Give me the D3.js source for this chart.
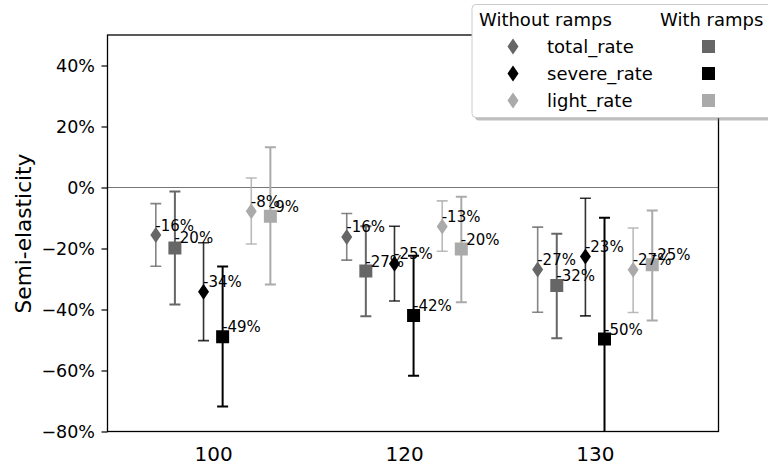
<!DOCTYPE html>
<html>
<head>
<meta charset="utf-8">
<script src="https://cdn.jsdelivr.net/npm/d3@7"></script>
<style>
    body { margin: 0; background: #fff; }
    text { font-family: "DejaVu Sans", sans-serif; }
</style>
</head>
<body>
<div id="chart"></div>
<script>
// categories on the x axis
const groups = ["100", "120", "130"];
const series = ["total_rate", "severe_rate", "light_rate"];
const y_ticks = [-80, -60, -40, -20, 0, 20, 40];

// without ramps (diamonds), values in %
const noramp_total = [-15.6, -16.2, -26.9];
const noramp_total_lo = [-25.8, -23.8, -40.9];
const noramp_total_hi = [-5.3, -8.5, -13.0];
const noramp_severe = [-34.2, -25.0, -22.6];
const noramp_severe_lo = [-50.2, -37.2, -42.1];
const noramp_severe_hi = [-18.1, -12.7, -3.5];
const noramp_light = [-7.8, -12.8, -27.0];
const noramp_light_lo = [-18.5, -20.9, -41.0];
const noramp_light_hi = [3.1, -4.4, -13.3];

// with ramps (squares)
const ramp_total = [-19.8, -27.4, -32.1];
const ramp_total_lo = [-38.4, -42.2, -49.4];
const ramp_total_hi = [-1.3, -12.7, -15.2];
const ramp_severe = [-48.9, -42.0, -49.7];
const ramp_severe_lo = [-71.8, -61.7, -91.0];
const ramp_severe_hi = [-25.9, -22.4, -9.9];
const ramp_light = [-9.4, -20.2, -25.3];
const ramp_light_lo = [-31.8, -37.6, -43.6];
const ramp_light_hi = [13.2, -3.0, -7.5];

const colors = {total_rate: "#666666", severe_rate: "#000000", light_rate: "#aaaaaa"};
const series_offset = {total_rate: -0.25, severe_rate: 0, light_rate: 0.25};

// build rows for drawing
let points = [];
function add_rows(name, kind, vals, lo, hi) {
    for (let i = 0; i < groups.length; i++) {
        points.push({series: name, kind: kind, group: i, value: vals[i], lo: lo[i], hi: hi[i]});
    }
}
add_rows("total_rate", "noramp", noramp_total, noramp_total_lo, noramp_total_hi);
add_rows("total_rate", "ramp", ramp_total, ramp_total_lo, ramp_total_hi);
add_rows("severe_rate", "noramp", noramp_severe, noramp_severe_lo, noramp_severe_hi);
add_rows("severe_rate", "ramp", ramp_severe, ramp_severe_lo, ramp_severe_hi);
add_rows("light_rate", "noramp", noramp_light, noramp_light_lo, noramp_light_hi);
add_rows("light_rate", "ramp", ramp_light, ramp_light_lo, ramp_light_hi);

const width = 768, height = 466;
const margins = {top: 35, bottom: 34.5, left: 107.5, right: 49.5};

const svg = d3.select("#chart").append("svg")
    .attr("width", width)
    .attr("height", height);

svg.append("rect").attr("width", width).attr("height", height).attr("fill", "#fff");

const x_scale = d3.scaleLinear()
    .domain([-0.553, 2.647])
    .range([margins.left, width - margins.right]);

const y_scale = d3.scaleLinear()
    .domain([-80, 50])
    .range([height - margins.bottom, margins.top]);

function x_pos(d) {
    let pair = d.kind === "noramp" ? -0.05 : 0.05;
    return x_scale(d.group + series_offset[d.series] + pair);
}

svg.append("clipPath").attr("id", "plot_clip")
    .append("rect")
    .attr("x", margins.left)
    .attr("y", margins.top)
    .attr("width", width - margins.left - margins.right)
    .attr("height", height - margins.top - margins.bottom);

// y axis
const y_axis = d3.axisLeft(y_scale)
    .tickValues(y_ticks)
    .tickSize(6)
    .tickPadding(6.5)
    .tickFormat(d => (d < 0 ? "\u2212" : "") + Math.abs(d) + "%");

const y_g = svg.append("g")
    .attr("transform", "translate(" + margins.left + ",0)")
    .call(y_axis);
y_g.select(".domain").remove();
y_g.selectAll("line").attr("stroke", "#000").attr("stroke-width", 1.2);
y_g.selectAll("text").attr("font-size", "17.5px").attr("fill", "#000")
    .attr("font-family", "DejaVu Sans");

// x axis
const x_axis = d3.axisBottom(x_scale)
    .tickValues([0, 1, 2])
    .tickSize(0)
    .tickPadding(15)
    .tickFormat(i => groups[i]);

const x_g = svg.append("g")
    .attr("transform", "translate(0," + (height - margins.bottom) + ")")
    .call(x_axis);
x_g.select(".domain").remove();
x_g.selectAll("text").attr("font-size", "20px").attr("fill", "#000")
    .attr("font-family", "DejaVu Sans");

// y label
svg.append("text")
    .attr("transform", "translate(31,233.5) rotate(-90)")
    .attr("text-anchor", "middle")
    .attr("font-size", "21.7px")
    .text("Semi-elasticity");

const plot = svg.append("g").attr("clip-path", "url(#plot_clip)");

// zero line
plot.append("line")
    .attr("x1", margins.left).attr("x2", width - margins.right)
    .attr("y1", y_scale(0)).attr("y2", y_scale(0))
    .attr("stroke", "#777").attr("stroke-width", 1);

// error bars
const err = plot.selectAll(".err")
    .data(points)
    .enter()
    .append("g")
    .attr("stroke", d => colors[d.series])
    .attr("stroke-opacity", d => d.kind === "noramp" ? 0.8 : 1)
    .attr("stroke-width", d => d.kind === "noramp" ? 1.6 : 2);

err.append("line")
    .attr("x1", x_pos).attr("x2", x_pos)
    .attr("y1", d => y_scale(d.lo)).attr("y2", d => y_scale(d.hi));
err.append("line")
    .attr("x1", d => x_pos(d) - 5.5).attr("x2", d => x_pos(d) + 5.5)
    .attr("y1", d => y_scale(d.lo)).attr("y2", d => y_scale(d.lo));
err.append("line")
    .attr("x1", d => x_pos(d) - 5.5).attr("x2", d => x_pos(d) + 5.5)
    .attr("y1", d => y_scale(d.hi)).attr("y2", d => y_scale(d.hi));

const diamond = "M0,-8L5.5,0L0,8L-5.5,0Z";

// markers
plot.selectAll(".mark")
    .data(points)
    .enter()
    .append("path")
    .attr("transform", d => "translate(" + x_pos(d) + "," + y_scale(d.value) + ")")
    .attr("d", d => d.kind === "noramp" ? diamond : "M-6.5,-6.5H6.5V6.5H-6.5Z")
    .attr("fill", d => colors[d.series]);

// value labels
svg.selectAll(".lbl")
    .data(points)
    .enter()
    .append("text")
    .attr("x", d => x_pos(d) - 0.5)
    .attr("y", d => y_scale(d.value) - 4.5)
    .attr("font-size", "15px")
    .text(d => Math.round(d.value) + "%");

// frame
svg.append("rect")
    .attr("x", margins.left).attr("y", margins.top)
    .attr("width", width - margins.left - margins.right)
    .attr("height", height - margins.top - margins.bottom)
    .attr("fill", "none")
    .attr("stroke", "#000")
    .attr("stroke-width", 1.3);

// legend
const legend = svg.append("g").attr("transform", "translate(472,4.5)");
legend.append("rect")
    .attr("x", 3).attr("y", 3)
    .attr("width", 330).attr("height", 113)
    .attr("rx", 4)
    .attr("fill", "#808080").attr("fill-opacity", 0.5);
legend.append("rect")
    .attr("width", 330).attr("height", 113)
    .attr("rx", 4)
    .attr("fill", "#fff")
    .attr("stroke", "#cccccc").attr("stroke-width", 1);

legend.append("text").attr("x", 7).attr("y", 21.5).attr("font-size", "18px").text("Without ramps");
legend.append("text").attr("x", 188).attr("y", 21.5).attr("font-size", "18px").text("With ramps");

const rows = legend.selectAll(".row")
    .data(series)
    .enter()
    .append("g")
    .attr("transform", (d, i) => "translate(0," + (42 + i * 27) + ")");
rows.append("path")
    .attr("transform", "translate(41,0)")
    .attr("d", diamond)
    .attr("fill", d => colors[d]);
rows.append("text")
    .attr("x", 75).attr("y", 6.5)
    .attr("font-size", "18px")
    .text(d => d);
rows.append("rect")
    .attr("x", 230).attr("y", -6.5)
    .attr("width", 13).attr("height", 13)
    .attr("fill", d => colors[d]);
</script>
</body>
</html>
